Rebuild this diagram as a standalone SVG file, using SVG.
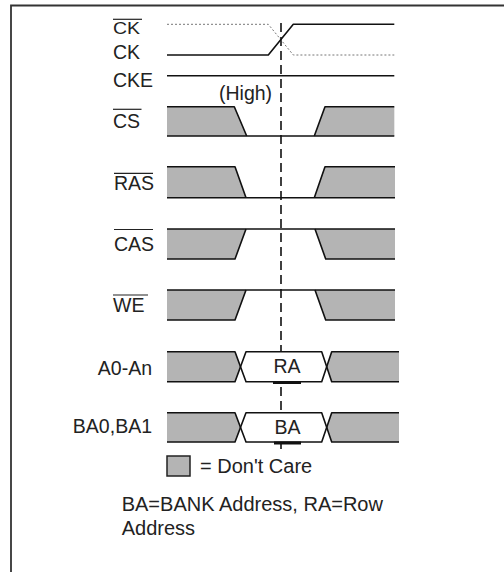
<svg xmlns="http://www.w3.org/2000/svg" width="504" height="572" viewBox="0 0 504 572">
<style>
text{font-family:"Liberation Sans",Arial,sans-serif;fill:#222;}
.lbl{font-size:19.5px;}
.bot{font-size:20px;}
.w{fill:none;stroke:#111;stroke-width:1.6;stroke-linejoin:round;}
.g{fill:#b4b4b4;stroke:none;}
.hex{fill:#fff;stroke:none;}
.ob{stroke:#222;stroke-width:1.2;}
.thick{stroke:#111;stroke-width:3;}
</style>
<rect width="504" height="572" fill="#fff"/>
<g id="frame" fill="none" stroke="#333" stroke-width="1.8">
<path d="M11,572 V5.5 H504"/>
</g>
<g id="connectors">
<line x1="281" y1="23" x2="281" y2="449" stroke="#111" stroke-width="1.6" stroke-dasharray="9,5"/>
</g>
<g id="ck">
<text class="lbl" transform="translate(113,34) scale(1,0.8)">CK</text>
<line class="ob" x1="113" y1="19.3" x2="142" y2="19.3"/>
<text class="lbl" x="113" y="59">CK</text>
<path d="M167,24.3 H268.3 L293.3,55 H394.3" fill="none" stroke="#777" stroke-width="1" stroke-dasharray="2,2"/>
<path class="w" d="M167,55 H268.3 L293.3,24.3 H394.3"/>
</g>
<g id="cke">
<text class="lbl" x="113" y="87.3">CKE</text>
<path class="w" d="M167,75.7 H394.3"/>
<text class="lbl" x="219" y="100">(High)</text>
</g>
<g id="cs">
<text class="lbl" x="113" y="128.3">CS</text>
<line class="ob" x1="113" y1="109.3" x2="141.5" y2="109.3"/>
<polygon class="g" points="167,106.7 234.3,106.7 246.7,136 167,136"/>
<polygon class="g" points="314.3,136 325,106.7 394.3,106.7 394.3,136"/>
<path class="w" d="M167,106.7 H234.3 L246.7,136"/>
<path class="w" d="M167,136 H394.3"/>
<path class="w" d="M314.3,136 L325,106.7 H394.3"/>
</g>
<g id="ras">
<text class="lbl" x="114" y="190">RAS</text>
<line class="ob" x1="114" y1="173.3" x2="153" y2="173.3"/>
<polygon class="g" points="167,166.7 235,166.7 246,197.7 167,197.7"/>
<polygon class="g" points="314.3,197.7 325,166.7 395,166.7 395,197.7"/>
<path class="w" d="M167,166.7 H235 L246,197.7"/>
<path class="w" d="M167,197.7 H395"/>
<path class="w" d="M314.3,197.7 L325,166.7 H395"/>
</g>
<g id="cas">
<text class="lbl" x="114" y="250.7">CAS</text>
<line class="ob" x1="114" y1="229.5" x2="153" y2="229.5"/>
<polygon class="g" points="167,229 246,229 235,259 167,259"/>
<polygon class="g" points="315,229 395,229 395,259 325.7,259"/>
<path class="w" d="M167,229 H395"/>
<path class="w" d="M167,259 H235 L246,229"/>
<path class="w" d="M315,229 L325.7,259 H395"/>
</g>
<g id="we">
<text class="lbl" x="113" y="312">WE</text>
<line class="ob" x1="113" y1="295" x2="148" y2="295"/>
<polygon class="g" points="167,290 246,290 235,320 167,320"/>
<polygon class="g" points="315,290 395,290 395,320 325.7,320"/>
<path class="w" d="M167,290 H395"/>
<path class="w" d="M167,320 H235 L246,290"/>
<path class="w" d="M315,290 L325.7,320 H395"/>
</g>
<g id="a0-an">
<text class="lbl" x="152" y="375" text-anchor="end">A0-An</text>
<polygon class="g" points="167,351.7 235,351.7 240.7,366.7 235,381.7 167,381.7"/>
<polygon class="hex" points="246,351.7 321.7,351.7 326.7,366.7 321.7,381.7 246,381.7 240.7,366.7"/>
<polygon class="g" points="331.7,351.7 399,351.7 399,381.7 331.7,381.7 326.7,366.7"/>
<path class="w" d="M167,351.7 H235 L246,381.7 H321.7 L331.7,351.7 H399"/>
<path class="w" d="M167,381.7 H235 L246,351.7 H321.7 L331.7,381.7 H399"/>
<line class="thick" x1="273" y1="382.5" x2="301" y2="382.5"/>
<text class="lbl" x="287" y="373.3" text-anchor="middle">RA</text>
</g>
<g id="ba0-ba1">
<text class="lbl" x="152" y="432.7" text-anchor="end">BA0,BA1</text>
<polygon class="g" points="167,412.7 235,412.7 240.7,427.3 235,442 167,442"/>
<polygon class="hex" points="246,412.7 321.7,412.7 326.7,427.3 321.7,442 246,442 240.7,427.3"/>
<polygon class="g" points="331.7,412.7 399,412.7 399,442 331.7,442 326.7,427.3"/>
<path class="w" d="M167,412.7 H235 L246,442 H321.7 L331.7,412.7 H399"/>
<path class="w" d="M167,442 H235 L246,412.7 H321.7 L331.7,442 H399"/>
<line class="thick" x1="274" y1="443" x2="301" y2="443"/>
<text class="lbl" x="287.5" y="434" text-anchor="middle">BA</text>
</g>
<g id="legend">
<rect x="167" y="456" width="23" height="20" fill="#b4b4b4" stroke="#222" stroke-width="1.5"/>
<text class="bot" x="200" y="473.3">= Don't Care</text>
</g>
<g id="note">
<text class="bot" x="121.7" y="510.7">BA=BANK Address, RA=Row</text>
<text class="bot" x="121.7" y="535">Address</text>
</g>
</svg>
